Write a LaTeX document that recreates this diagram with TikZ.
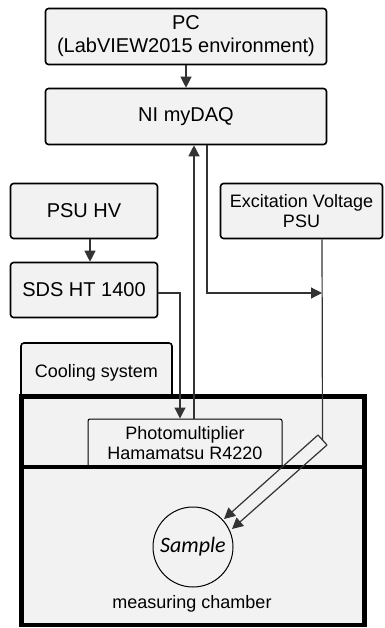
\documentclass[tikz,border=0pt]{standalone}
\usepackage{fontspec}
\setmainfont{Liberation Sans}
\newfontfamily\samplefont{Carlito}
\usepackage{xcolor}
\usetikzlibrary{arrows.meta,positioning,calc}
\definecolor{boxgray}{HTML}{F2F2F2}
\definecolor{wire}{HTML}{333333}

\begin{document}
\begin{tikzpicture}[x=1pt,y=-1pt,>={Triangle[length=11pt,width=11pt]},
  font=\fontsize{20}{23}\selectfont,
  unit/.style={draw,line width=1.6pt,rounded corners=3pt,fill=boxgray,inner sep=0pt,align=center},
  small/.style={font=\fontsize{18}{20.5}\selectfont},
  wall/.style={draw,line width=4.5pt,fill=boxgray,inner sep=0pt},
  flow/.style={->,line width=1.2pt,wire},
  link/.style={line width=1.2pt,wire}]
 \useasboundingbox (0,0) rectangle (384,628);
 % control chain
 \node[unit,minimum width=281pt,minimum height=56pt] (pc) at (186,36.5) {PC\\(LabVIEW2015 environment)};
 \node[unit,minimum width=281pt,minimum height=56pt] (daq) at (186,116.5) {NI myDAQ};
 \draw[flow] (pc.south) -- (daq.north);
 % power supplies
 \node[unit,minimum width=147pt,minimum height=55pt] (psu) at (84,211) {PSU HV};
 \node[unit,minimum width=147pt,minimum height=55pt] (sds) at (84,290) {SDS HT 1400};
 \node[unit,small,minimum width=162pt,minimum height=55pt] (exc) at (301.5,211) {Excitation Voltage\\PSU};
 \draw[flow] ([xshift=6pt]psu.south) -- ([xshift=6pt]sds.north);
 % cooling and chambers
 \node[unit,small,minimum width=151pt,minimum height=60pt] (cool) at (96.5,373) {Cooling system};
 \node[wall,minimum width=343pt,minimum height=70.5pt] (upper) at (193,431.75) {};
 \node[draw,line width=1pt,rounded corners=2pt,fill=boxgray,inner sep=0pt,align=center,small,
   minimum width=194pt,minimum height=48pt] (pm) at (185,443) {Photomultiplier\\Hamamatsu R4220};
 \node[wall,minimum width=343pt,minimum height=158pt] (lower) at (193,546) {};
 \node[draw,circle,line width=1pt,fill=boxgray,minimum size=80pt,inner sep=0pt,
   font=\samplefont\itshape\fontsize{22}{24}\selectfont] (sample) at (193,547) {Sample};
 \node[small] (chamber) at (192,604) {measuring chamber};
 % signal wires
 \draw[flow] ([yshift=-3pt]sds.east) -| ([xshift=-5pt]pm.north);
 \draw[flow] ([xshift=9pt]pm.north) -- ([xshift=9pt]pm.north |- daq.south);
 \coordinate (tap) at (322,293);
 \draw[flow] ([xshift=21pt]daq.south) |- (tap);
 % excitation fibre
 \coordinate (capa) at (318,435);
 \coordinate (capb) at (327,445);
 \coordinate (tipa) at (224,519);
 \coordinate (tipb) at (232,529);
 \draw[link] ([xshift=20.5pt]exc.south) -- ($(capa)!0.5!(capb)$);
 \draw[link] (capa) -- (capb);
 \draw[flow] (capa) -- (tipa);
 \draw[flow] (capb) -- (tipb);
\end{tikzpicture}
\end{document}
